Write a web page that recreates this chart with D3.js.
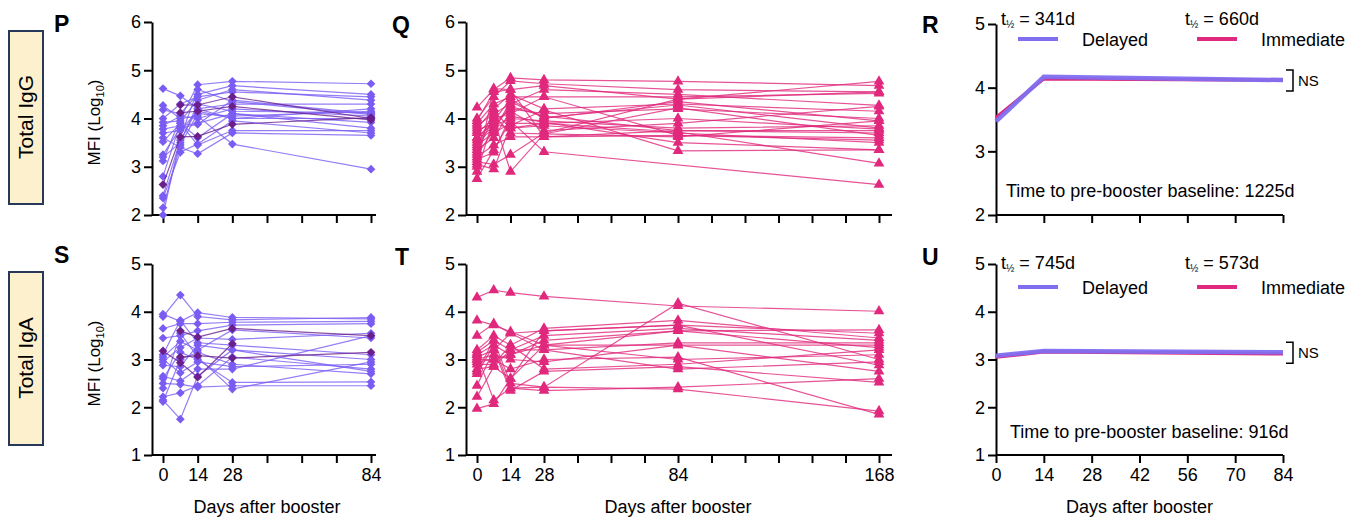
<!DOCTYPE html>
<html>
<head>
<meta charset="utf-8">
<script src="https://cdn.jsdelivr.net/npm/d3@7"></script>
<style>
  body { margin: 0; background: #fff; }
  svg { font-family: "Liberation Sans", Arial, sans-serif; }
</style>
</head>
<body>
<div id="chart"></div>
<script>
// sampling days
const daysShort = [0, 7, 14, 28, 84];
const daysLong = [0, 7, 14, 28, 84, 168];
const fitDays = [0, 14, 84];

// tick values
const ticks84 = [0, 14, 28, 42, 56, 70, 84];
const ticks168 = [0, 14, 28, 42, 56, 70, 84, 98, 112, 126, 140, 154, 168];
const labels84 = [0, 14, 28, 84];
const labels168 = [0, 14, 28, 84, 168];
const labelsFit = [0, 14, 28, 42, 56, 70, 84];
const yTicksIgG = [2, 3, 4, 5, 6];
const yTicksIgA = [1, 2, 3, 4, 5];
const yTicksFitIgG = [2, 3, 4, 5];

// P: delayed, total IgG (days 0, 7, 14, 28, 84)
const delayedIgG = [
  [4.62, 4.47, 4.20, 4.30, 4.30],
  [4.27, 4.00, 4.70, 4.77, 4.72],
  [4.18, 4.10, 4.50, 4.68, 4.50],
  [4.00, 4.30, 4.45, 4.55, 4.45],
  [3.92, 3.95, 4.38, 4.60, 4.38],
  [3.85, 4.05, 4.00, 4.20, 4.05],
  [3.78, 3.85, 3.90, 4.10, 3.92],
  [3.70, 3.75, 4.15, 4.00, 4.20],
  [3.60, 3.40, 3.27, 3.70, 3.65],
  [3.52, 3.90, 3.45, 3.75, 3.75],
  [3.25, 3.80, 3.88, 4.38, 4.10],
  [3.20, 3.50, 4.30, 4.15, 4.12],
  [3.12, 4.00, 4.05, 3.47, 2.95],
  [2.80, 3.90, 3.60, 4.10, 3.80],
  [2.40, 3.55, 4.20, 4.00, 4.00],
  [2.35, 3.30, 3.47, 3.95, 3.70],
  [2.15, 3.45, 4.10, 4.05, 4.15],
  [2.00, 3.60, 4.60, 4.35, 4.08]
];
const delayedIgGDark = [
  [2.63, 3.62, 3.63, 3.88, 4.02],
  [null, 4.28, 4.28, 4.45, 4.00],
  [null, 4.12, 4.15, 4.25, 3.97]
];

// Q: immediate, total IgG (days 0, 7, 14, 28, 84, 168)
const immediateIgG = [
  [4.23, 4.60, 4.84, 4.80, 4.77, 4.68],
  [4.00, 4.45, 4.78, 4.72, 4.60, 4.55],
  [3.95, 4.55, 4.60, 4.68, 4.40, 4.77],
  [3.90, 4.30, 4.45, 4.45, 4.45, 4.52],
  [3.85, 4.10, 4.30, 4.60, 4.50, 4.27],
  [3.80, 4.20, 4.50, 4.20, 4.30, 4.15],
  [3.75, 3.90, 4.20, 4.10, 4.20, 4.00],
  [3.70, 4.00, 4.10, 4.45, 3.65, 3.60],
  [3.60, 3.95, 4.40, 4.00, 4.35, 3.95],
  [3.55, 3.85, 4.00, 3.95, 3.80, 3.85],
  [3.50, 3.80, 4.25, 4.05, 3.75, 3.70],
  [3.45, 3.70, 3.90, 3.90, 4.00, 3.78],
  [3.40, 4.15, 3.80, 3.85, 3.70, 3.50],
  [3.35, 3.60, 4.15, 3.75, 3.90, 4.25],
  [3.30, 4.05, 3.70, 3.68, 3.62, 3.95],
  [3.25, 3.75, 4.35, 4.02, 4.28, 3.80],
  [3.20, 3.45, 3.62, 3.62, 3.65, 3.55],
  [3.15, 3.30, 4.05, 3.92, 3.50, 3.35],
  [3.10, 3.05, 3.25, 3.70, 4.40, 4.55],
  [3.05, 2.95, 3.85, 4.18, 3.33, 3.35],
  [2.90, 4.00, 2.90, 3.68, 4.22, 3.65],
  [2.75, 3.35, 3.95, 3.31, null, 2.63],
  [3.60, 3.90, 3.80, 3.90, 3.72, 3.07],
  [3.00, 4.62, 4.60, 3.62, 3.75, 3.75]
];

// S: delayed, total IgA
const delayedIgA = [
  [3.95, 3.80, 3.98, 3.88, 3.85],
  [3.90, 4.35, 3.90, 3.83, 3.88],
  [3.65, 3.75, 3.75, 3.78, 3.80],
  [3.45, 3.50, 3.60, 3.72, 3.75],
  [3.05, 3.38, 3.20, 3.62, 3.45],
  [2.95, 3.25, 3.45, 3.42, 3.55],
  [2.88, 2.85, 3.30, 3.20, 3.00],
  [3.00, 2.72, 2.95, 2.85, 2.90],
  [2.65, 2.55, 2.80, 2.80, 3.50],
  [2.60, 3.15, 3.00, 2.52, 2.53],
  [2.50, 2.48, 2.42, 2.45, 2.45],
  [2.40, 3.55, 3.05, 2.38, 2.95],
  [2.22, 2.30, 2.45, 3.05, 2.80],
  [2.15, 1.75, 2.65, 3.20, 2.75],
  [2.12, 3.00, 3.15, 2.90, 2.70],
  [3.10, 3.82, 3.35, 3.30, 3.10]
];
const delayedIgADark = [
  [3.18, 2.93, 2.63, 3.33, null],
  [null, 3.60, 3.47, 3.65, 3.50],
  [null, 3.05, 3.08, 3.03, 3.15]
];

// T: immediate, total IgA
const immediateIgA = [
  [4.30, 4.45, 4.40, 4.32, 4.12, 4.01],
  [3.82, 3.72, 3.58, 3.30, 3.60, 3.62],
  [3.50, 3.75, 3.55, 3.60, 3.72, 3.55],
  [3.20, 3.50, 3.30, 3.65, 3.82, 3.45],
  [3.15, 3.40, 3.20, 3.50, 3.65, 3.40],
  [3.10, 3.30, 3.10, 3.40, 3.60, 3.25],
  [3.05, 3.20, 3.55, 3.20, 3.35, 3.35],
  [3.00, 3.10, 3.00, 2.95, 3.30, 3.30],
  [2.95, 3.00, 2.80, 3.00, 3.05, 1.85],
  [2.90, 2.90, 3.30, 2.80, 2.90, 3.20],
  [2.80, 2.85, 2.60, 3.30, 3.00, 3.10],
  [2.75, 3.40, 2.50, 2.42, 4.18, 3.00],
  [2.70, 3.30, 2.40, 2.35, 2.42, 2.60],
  [2.45, 3.20, 2.35, 2.75, 2.85, 2.52],
  [2.22, 2.85, 3.20, 3.20, 2.80, 2.95],
  [1.97, 2.07, 2.60, 3.60, 3.72, 2.88],
  [3.10, 2.15, 2.40, 2.42, 2.38, 1.92],
  [3.00, 3.00, 3.10, 3.30, 3.30, 2.75]
];

// R / U: fitted decay curves
const fitIgGDelayed = [3.47, 4.17, 4.12];
const fitIgGImmediate = [3.53, 4.14, 4.12];
const fitIgADelayed = [3.08, 3.18, 3.15];
const fitIgAImmediate = [3.05, 3.16, 3.12];

const purple = '#7b5cf3';
const purpleDark = '#6a1f8c';
const pink = '#e0287c';
const fitPurple = '#7f6ff0';
const font = '"Liberation Sans", Arial, sans-serif';
const fs = 18;

const svg = d3.select('#chart').append('svg')
  .attr('width', 1368).attr('height', 519);

const drawAxes = (g, x, y, c) => {
  const xa = d3.axisBottom(x).tickValues(c.xTicks).tickSize(8).tickPadding(5).tickSizeOuter(0)
    .tickFormat(d => (c.xLabels && c.xLabels.includes(d)) ? d : '');
  const gx = g.append('g').attr('transform', `translate(0,${c.y0})`).call(xa);
  gx.select('.domain').remove();
  gx.append('line')
    .attr('x1', c.axisX).attr('x2', c.axisEnd)
    .attr('stroke', '#000').attr('stroke-width', 2);
  gx.selectAll('.tick line').attr('stroke-width', 2);
  gx.selectAll('text').attr('font-size', fs).attr('font-family', font).attr('fill', '#000');

  const ya = d3.axisLeft(y).tickValues(c.yTicks).tickSize(8).tickPadding(3).tickSizeOuter(0)
    .tickFormat(d3.format('d'));
  const gy = g.append('g').attr('transform', `translate(${c.axisX},0)`).call(ya);
  gy.select('.domain').attr('stroke-width', 2);
  gy.selectAll('.tick line').attr('stroke-width', 2);
  gy.selectAll('text').attr('font-size', fs).attr('font-family', font).attr('fill', '#000');

  if (c.xLabels) {
    g.append('text')
      .attr('x', (c.xRange[0] + c.xRange[1]) / 2).attr('y', c.y0 + 58)
      .attr('text-anchor', 'middle').attr('font-size', fs).text('Days after booster');
  }
  if (c.yTitle) {
    const t = g.append('text')
      .attr('transform', `translate(${c.axisX - 52},${(c.y0 + c.y1) / 2 + 4}) rotate(-90)`)
      .attr('text-anchor', 'middle').attr('font-size', 17);
    t.append('tspan').text('MFI (Log');
    t.append('tspan').attr('font-size', 11).attr('dy', 4).text('10');
    t.append('tspan').attr('dy', -4).text(')');
  }
  g.append('text')
    .attr('x', c.letterX).attr('y', c.letterY)
    .attr('font-size', 23).attr('font-weight', 900).text(c.letter);
};

const spaghetti = c => {
  const g = svg.append('g');
  const x = d3.scaleLinear().domain([0, c.days[c.days.length - 1]]).range(c.xRange);
  const y = d3.scaleLinear().domain(c.yDomain).range([c.y0, c.y1]);
  drawAxes(g, x, y, c);

  const line = d3.line().x(d => x(d[0])).y(d => y(d[1]));
  const pts = row => c.days.map((d, i) => [d, row[i]]).filter(p => p[1] != null);
  const sym = c.shape === 'diamond'
    ? d3.symbol(d3.symbolSquare, 38)
    : d3.symbol(d3.symbolTriangle, 50);
  const rot = c.shape === 'diamond' ? ' rotate(45)' : '';

  const groups = [{ rows: c.rows, color: c.color }];
  if (c.dark) groups.push({ rows: c.dark, color: purpleDark });

  groups.forEach(grp => {
    const sg = g.append('g');
    sg.selectAll('path.ln').data(grp.rows).join('path')
      .attr('class', 'ln')
      .attr('d', r => line(pts(r)))
      .attr('fill', 'none').attr('stroke', grp.color)
      .attr('stroke-width', 1.2).attr('stroke-opacity', 0.8);
    sg.selectAll('path.mk').data(grp.rows.flatMap(pts)).join('path')
      .attr('class', 'mk')
      .attr('d', sym)
      .attr('transform', d => `translate(${x(d[0])},${y(d[1])})${rot}`)
      .attr('fill', grp.color);
  });
};

const fitPanel = c => {
  const g = svg.append('g');
  const x = d3.scaleLinear().domain([0, 84]).range(c.xRange);
  const y = d3.scaleLinear().domain(c.yDomain).range([c.y0, c.y1]);
  drawAxes(g, x, y, c);

  const line = d3.line().x((d, i) => x(fitDays[i])).y(d => y(d));
  g.append('path').attr('d', line(c.immediate))
    .attr('fill', 'none').attr('stroke', pink).attr('stroke-width', 3.5);
  g.append('path').attr('d', line(c.delayed))
    .attr('fill', 'none').attr('stroke', fitPurple).attr('stroke-width', 4.5)
    .attr('stroke-opacity', 0.95);

  // legend with half-lives
  const half = (xp, yp, v) => {
    const t = g.append('text').attr('x', xp).attr('y', yp).attr('font-size', fs);
    t.append('tspan').text('t');
    t.append('tspan').attr('font-size', 10).attr('dy', 3).text('½');
    t.append('tspan').attr('dy', -3).text(' = ' + v);
  };
  half(1001, c.halfY, c.halfDelayed);
  half(1185, c.halfY, c.halfImmediate);
  g.append('line').attr('x1', 1018).attr('x2', 1058).attr('y1', c.legY).attr('y2', c.legY)
    .attr('stroke', fitPurple).attr('stroke-width', 4);
  g.append('text').attr('x', 1082).attr('y', c.legY + 7).attr('font-size', fs).text('Delayed');
  g.append('line').attr('x1', 1197).attr('x2', 1237).attr('y1', c.legY).attr('y2', c.legY)
    .attr('stroke', pink).attr('stroke-width', 4);
  g.append('text').attr('x', 1261).attr('y', c.legY + 7).attr('font-size', fs).text('Immediate');

  // NS bracket
  const yb = y(c.delayed[2]);
  g.append('path')
    .attr('d', `M1286,${yb - 10}H1293V${yb + 11}H1286`)
    .attr('fill', 'none').attr('stroke', '#000').attr('stroke-width', 1.5);
  g.append('text').attr('x', 1298).attr('y', yb + 6).attr('font-size', 15).text('NS');

  g.append('text').attr('x', c.baseX).attr('y', c.baseY).attr('font-size', fs)
    .text('Time to pre-booster baseline: ' + c.baseline);
};

// row label boxes
[['Total IgG', 31], ['Total IgA', 272]].forEach(([label, top]) => {
  svg.append('rect').attr('x', 9).attr('y', top).attr('width', 34).attr('height', 173)
    .attr('fill', '#fdf0cd').attr('stroke', '#27385a').attr('stroke-width', 2);
  svg.append('text')
    .attr('transform', `translate(33,${top + 86}) rotate(-90)`)
    .attr('text-anchor', 'middle').attr('font-size', 21).text(label);
});

spaghetti({ letter: 'P', letterX: 54, letterY: 32, rows: delayedIgG, dark: delayedIgGDark,
  days: daysShort, color: purple, shape: 'diamond', xRange: [163, 371], axisX: 152, axisEnd: 376,
  yDomain: [2, 6], y0: 215, y1: 22, xTicks: ticks84, yTicks: yTicksIgG, yTitle: true });
spaghetti({ letter: 'Q', letterX: 392, letterY: 33, rows: immediateIgG,
  days: daysLong, color: pink, shape: 'triangle', xRange: [477, 879], axisX: 466, axisEnd: 892,
  yDomain: [2, 6], y0: 215, y1: 22, xTicks: ticks168, yTicks: yTicksIgG });
fitPanel({ letter: 'R', letterX: 922, letterY: 33, xRange: [996, 1283], axisX: 996, axisEnd: 1283,
  yDomain: [2, 5], y0: 215, y1: 24, xTicks: ticks84, yTicks: yTicksFitIgG,
  delayed: fitIgGDelayed, immediate: fitIgGImmediate, halfDelayed: '341d', halfImmediate: '660d',
  halfY: 25, legY: 39, baseX: 1006, baseY: 197, baseline: '1225d' });

spaghetti({ letter: 'S', letterX: 54, letterY: 263, rows: delayedIgA, dark: delayedIgADark,
  days: daysShort, color: purple, shape: 'diamond', xRange: [163, 371], axisX: 152, axisEnd: 376,
  yDomain: [1, 5], y0: 455, y1: 264, xTicks: ticks84, xLabels: labels84, yTicks: yTicksIgA, yTitle: true });
spaghetti({ letter: 'T', letterX: 395, letterY: 265, rows: immediateIgA,
  days: daysLong, color: pink, shape: 'triangle', xRange: [477, 879], axisX: 466, axisEnd: 892,
  yDomain: [1, 5], y0: 455, y1: 264, xTicks: ticks168, xLabels: labels168, yTicks: yTicksIgA });
fitPanel({ letter: 'U', letterX: 922, letterY: 265, xRange: [996, 1283], axisX: 996, axisEnd: 1283,
  yDomain: [1, 5], y0: 455, y1: 264, xTicks: ticks84, xLabels: labelsFit, yTicks: yTicksIgA,
  delayed: fitIgADelayed, immediate: fitIgAImmediate, halfDelayed: '745d', halfImmediate: '573d',
  halfY: 269, legY: 287, baseX: 1010, baseY: 438, baseline: '916d' });
</script>
</body>
</html>
